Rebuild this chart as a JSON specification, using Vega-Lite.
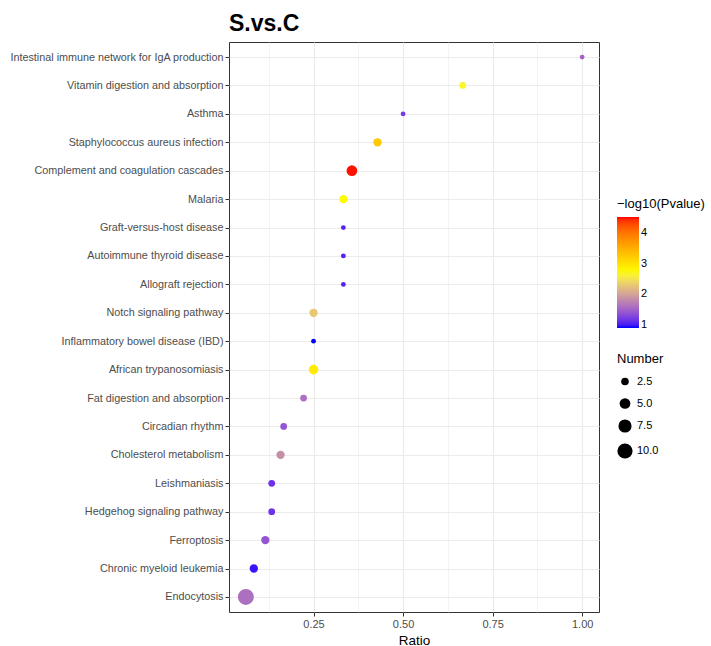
{
  "$schema": "https://vega.github.io/schema/vega-lite/v6.json",
  "width": 370,
  "height": 570,
  "padding": {"left": 9, "top": 13, "right": 5, "bottom": 5},
  "background": "white",
  "title": {
    "text": "S.vs.C",
    "fontSize": 23,
    "fontWeight": "bold",
    "anchor": "start",
    "frame": "group",
    "color": "black",
    "offset": 6,
    "font": "Liberation Sans"
  },
  "data": {
    "values": [
      {"Term": "Intestinal immune network for IgA production", "Ratio": 1.0, "Number": 1, "logP": 1.5},
      {"Term": "Vitamin digestion and absorption", "Ratio": 0.6667, "Number": 2, "logP": 2.65},
      {"Term": "Asthma", "Ratio": 0.5, "Number": 1, "logP": 1.2},
      {"Term": "Staphylococcus aureus infection", "Ratio": 0.4286, "Number": 3, "logP": 3.25},
      {"Term": "Complement and coagulation cascades", "Ratio": 0.3571, "Number": 5, "logP": 4.5},
      {"Term": "Malaria", "Ratio": 0.3333, "Number": 3, "logP": 2.75},
      {"Term": "Graft-versus-host disease", "Ratio": 0.3333, "Number": 1, "logP": 1.05},
      {"Term": "Autoimmune thyroid disease", "Ratio": 0.3333, "Number": 1, "logP": 1.05},
      {"Term": "Allograft rejection", "Ratio": 0.3333, "Number": 1, "logP": 1.05},
      {"Term": "Notch signaling pathway", "Ratio": 0.25, "Number": 3, "logP": 2.3},
      {"Term": "Inflammatory bowel disease (IBD)", "Ratio": 0.25, "Number": 1, "logP": 0.9},
      {"Term": "African trypanosomiasis", "Ratio": 0.25, "Number": 4, "logP": 2.9},
      {"Term": "Fat digestion and absorption", "Ratio": 0.2222, "Number": 2, "logP": 1.6},
      {"Term": "Circadian rhythm", "Ratio": 0.1667, "Number": 2, "logP": 1.4},
      {"Term": "Cholesterol metabolism", "Ratio": 0.1579, "Number": 3, "logP": 1.85},
      {"Term": "Leishmaniasis", "Ratio": 0.1333, "Number": 2, "logP": 1.15},
      {"Term": "Hedgehog signaling pathway", "Ratio": 0.1333, "Number": 2, "logP": 1.15},
      {"Term": "Ferroptosis", "Ratio": 0.1154, "Number": 3, "logP": 1.4},
      {"Term": "Chronic myeloid leukemia", "Ratio": 0.0833, "Number": 3, "logP": 0.97},
      {"Term": "Endocytosis", "Ratio": 0.0611, "Number": 11, "logP": 1.6}
    ]
  },
  "mark": {"type": "circle", "opacity": 1},
  "encoding": {
    "x": {
      "field": "Ratio",
      "type": "quantitative",
      "scale": {"domain": [0.014, 1.047], "nice": false, "zero": false},
      "axis": {
        "title": "Ratio",
        "values": [0.125, 0.25, 0.375, 0.5, 0.625, 0.75, 0.875, 1.0],
        "labelExpr": "indexof([0.25, 0.5, 0.75, 1], datum.value) >= 0 ? format(datum.value, '.2f') : ''",
        "tickColor": {"condition": {"test": "indexof([0.25, 0.5, 0.75, 1], datum.value) >= 0", "value": "#333333"}, "value": "transparent"},
        "gridWidth": {"condition": {"test": "indexof([0.25, 0.5, 0.75, 1], datum.value) >= 0", "value": 1.1}, "value": 0.6},
        "grid": true
      }
    },
    "y": {
      "field": "Term",
      "type": "nominal",
      "sort": null,
      "scale": {"type": "point", "padding": 0.53},
      "axis": {"title": null, "grid": true, "gridWidth": 1.1, "minExtent": 219, "maxExtent": 219, "labelLimit": 400, "labelFontSize": 10.8}
    },
    "color": {
      "field": "logP",
      "type": "quantitative",
      "scale": {"domain": [0.9, 2.71, 4.52], "range": ["#0000FF", "#FFFF00", "#FF0000"], "interpolate": "lab"},
      "legend": {
        "title": "−log10(Pvalue)",
        "orient": "none",
        "legendX": 388,
        "legendY": 156,
        "values": [1, 2, 3, 4],
        "gradientLength": 111,
        "gradientThickness": 22,
        "direction": "vertical"
      }
    },
    "size": {
      "field": "Number",
      "type": "quantitative",
      "scale": {"domain": [0, 11], "range": [0, 254]},
      "legend": {
        "title": "Number",
        "orient": "none",
        "legendX": 388,
        "legendY": 311,
        "values": [2.5, 5, 7.5, 10],
        "format": ".1f",
        "symbolFillColor": "black",
        "symbolStrokeWidth": 0,
        "symbolOpacity": 1,
        "rowPadding": 10,
        "titlePadding": 10
      }
    }
  },
  "config": {
    "font": "Liberation Sans",
    "view": {"stroke": "#333333", "strokeWidth": 1},
    "axis": {
      "domain": false,
      "gridColor": "#ebebeb",
      "tickColor": "#333333",
      "tickSize": 4,
      "labelColor": "#4d4d4d",
      "labelFontSize": 11,
      "labelPadding": 2,
      "titleFontSize": 13.5,
      "titleFontWeight": "normal",
      "titleColor": "black",
      "titlePadding": 4
    },
    "legend": {
      "titleFontSize": 13,
      "titleFontWeight": "normal",
      "titleColor": "black",
      "labelFontSize": 11,
      "labelColor": "black",
      "titlePadding": 6
    }
  }
}
